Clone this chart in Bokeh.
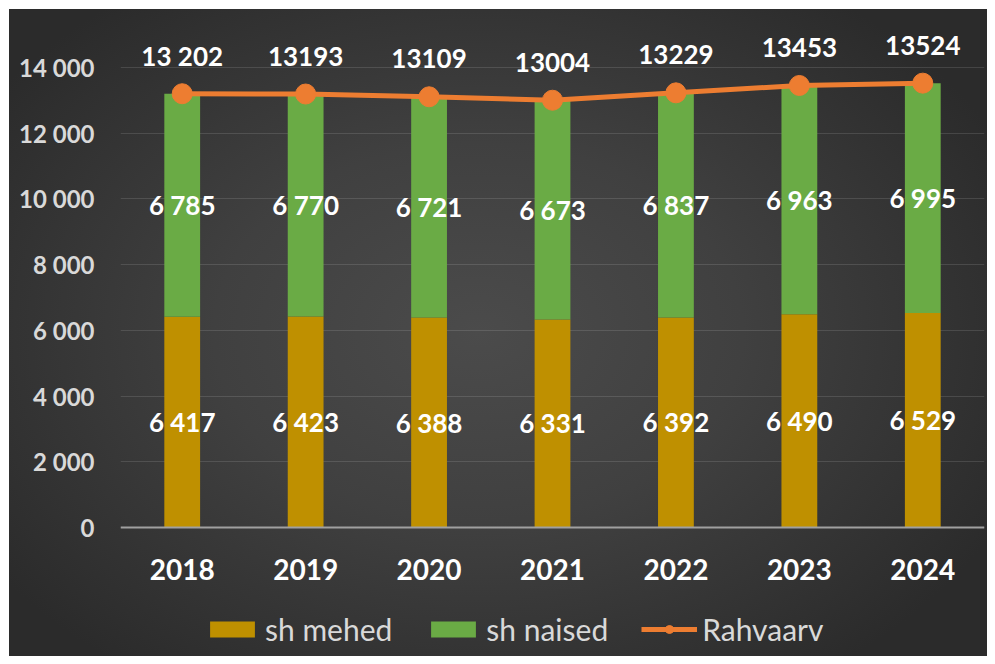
from bokeh.plotting import figure
from bokeh.models import FixedTicker, Legend, LegendItem, Range1d, FactorRange, ColumnDataSource
from bokeh.core.properties import value
from bokeh.embed import file_html
from bokeh.resources import INLINE

years = ["2018", "2019", "2020", "2021", "2022", "2023", "2024"]
mehed = [6417, 6423, 6388, 6331, 6392, 6490, 6529]
naised = [6785, 6770, 6721, 6673, 6837, 6963, 6995]
rahvaarv = [13202, 13193, 13109, 13004, 13229, 13453, 13524]
rahvaarv_labels = ["13 202", "13193", "13109", "13004", "13229", "13453", "13524"]
mehed_labels = ["6 417", "6 423", "6 388", "6 331", "6 392", "6 490", "6 529"]
naised_labels = ["6 785", "6 770", "6 721", "6 673", "6 837", "6 963", "6 995"]
y_ticks = [0, 2000, 4000, 6000, 8000, 10000, 12000, 14000]
y_tick_labels = ["0", "2 000", "4 000", "6 000", "8 000", "10 000", "12 000", "14 000"]
series_names = ["sh mehed", "sh naised", "Rahvaarv"]

FONT = value("Lato")
GOLD = "#bf9000"
GREEN = "#6aab45"
ORANGE = "#ed7d31"

src = ColumnDataSource(dict(
    year=years, mehed=mehed, naised=naised, total=rahvaarv,
    mid_m=[m / 2 for m in mehed],
    mid_n=[m + n / 2 for m, n in zip(mehed, naised)],
    lab_t=rahvaarv_labels, lab_m=mehed_labels, lab_n=naised_labels,
))

p = figure(x_range=FactorRange(*years), y_range=Range1d(-3926, 15735),
           width=987, height=656, output_backend="svg", toolbar_location=None,
           min_border_left=120, min_border_right=3, min_border_top=10, min_border_bottom=0)
p.styles = {"background": "radial-gradient(ellipse 60% 65% at 48% 50%, #4b4b4b 0%, #404040 45%, #2b2b2b 100%) 9px 9px / calc(100% - 9px) calc(100% - 9px) no-repeat, #ffffff"}
p.background_fill_color = None
p.border_fill_color = None
p.outline_line_color = None

bars = p.vbar_stack(["mehed", "naised"], x="year", width=0.29, source=src,
                    color=[GOLD, GREEN], line_color=None)
ln = p.line(x="year", y="total", source=src, line_color=ORANGE, line_width=5)
sc = p.scatter(x="year", y="total", source=src, size=20, fill_color=ORANGE, line_color=ORANGE)

common = dict(text_align="center", text_baseline="middle", text_font=FONT,
              text_font_style="bold", text_font_size="26px", text_color="white", source=src)
p.text(x="year", y="mid_m", text="lab_m", **common)
p.text(x="year", y="mid_n", text="lab_n", **common)
p.text(x="year", y="total", text="lab_t", y_offset=-38, **common)

# axes
p.yaxis.ticker = FixedTicker(ticks=y_ticks)
p.yaxis.major_label_overrides = {t: l for t, l in zip(y_ticks, y_tick_labels)}
p.yaxis.axis_line_color = None
p.yaxis.major_tick_line_color = None
p.yaxis.minor_tick_line_color = None
p.yaxis.major_label_standoff = 20
p.yaxis.major_label_text_font = "Lato"
p.yaxis.major_label_text_font_style = "bold"
p.yaxis.major_label_text_font_size = "24px"
p.yaxis.major_label_text_color = "#d9d9d9"

p.xaxis.fixed_location = 0
p.xaxis.axis_line_color = "#a0a0a0"
p.xaxis.axis_line_width = 2
p.xaxis.major_tick_line_color = None
p.xaxis.minor_tick_line_color = None
p.xaxis.major_label_standoff = 25
p.xaxis.major_label_text_font = "Lato"
p.xaxis.major_label_text_font_style = "bold"
p.xaxis.major_label_text_font_size = "28px"
p.xaxis.major_label_text_color = "white"

p.xgrid.grid_line_color = None
p.ygrid.ticker = FixedTicker(ticks=y_ticks)
p.ygrid.grid_line_color = "white"
p.ygrid.grid_line_alpha = 0.12
p.ygrid.grid_line_width = 1

legend = Legend(items=[
    LegendItem(label=series_names[0], renderers=[bars[0]]),
    LegendItem(label=series_names[1], renderers=[bars[1]]),
    LegendItem(label=series_names[2], renderers=[ln, sc]),
], orientation="horizontal", location=(84, 9))
legend.background_fill_alpha = 0
legend.border_line_color = None
legend.label_text_font = "Lato"
legend.label_text_font_size = "30px"
legend.label_text_color = "#d9d9d9"
legend.glyph_width = 56
legend.glyph_height = 20
legend.label_standoff = 5
legend.spacing = 33
legend.margin = 0
legend.padding = 0
p.add_layout(legend, "center")

open("out.html", "w").write(file_html(p, INLINE))
